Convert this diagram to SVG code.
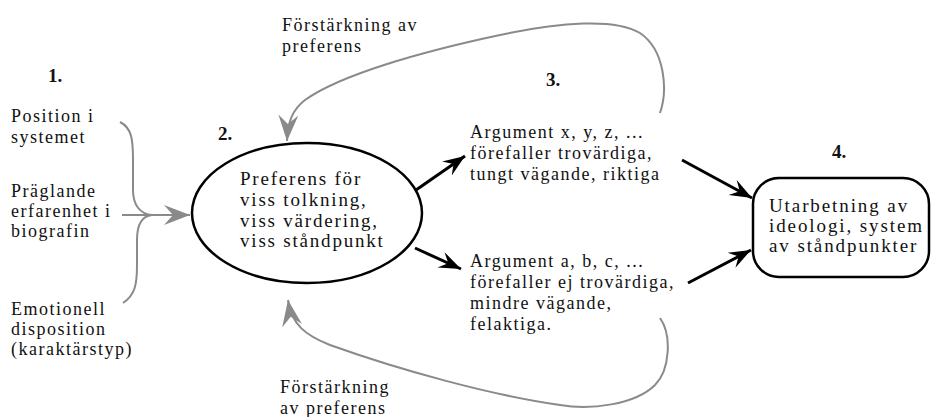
<svg xmlns="http://www.w3.org/2000/svg" width="931" height="417" viewBox="0 0 931 417">
<style>
.t{font-family:"Liberation Serif","Times New Roman",serif;font-size:18px;letter-spacing:1.5px;fill:#111}
.w{font-family:"Liberation Serif","Times New Roman",serif;font-size:19px;letter-spacing:1.8px;fill:#111}
.x{font-family:"Liberation Serif","Times New Roman",serif;font-size:19px;letter-spacing:1.9px;fill:#111}
.n{font-family:"Liberation Serif","Times New Roman",serif;font-size:19px;font-weight:bold;fill:#111}
.g{fill:none;stroke:#8a8a8a;stroke-width:2}
.b{fill:none;stroke:#000;stroke-width:3}
.shape{fill:#fff;stroke:#000;stroke-width:2.5}
</style>
<defs>
<marker id="ag" viewBox="-26 -11 28 22" refX="0" refY="0" markerWidth="28" markerHeight="22" orient="auto" markerUnits="userSpaceOnUse"><path d="M0,0 L-26,-10 L-17,0 L-26,10 Z" fill="#8a8a8a"/></marker>
<marker id="ab" viewBox="-22 -10 24 20" refX="0" refY="0" markerWidth="24" markerHeight="20" orient="auto" markerUnits="userSpaceOnUse"><path d="M0,0 L-22,-8.5 L-14,0 L-22,8.5 Z" fill="#000"/></marker>
</defs>
<g id="connectors">
<path class="g" d="M120 122 C132 128,133 140,133 160 L133 190 C133 205,140 214,152 215"/>
<path class="g" d="M123 303 C135 295,137 285,137 265 L137 240 C137 225,142 216,152 215"/>
<path class="g" d="M122 215 L190 215" marker-end="url(#ag)"/>
<path class="g" d="M660 113 C668 90,665 50,640 33 C615 18,560 22,500 35 C420 52,340 75,305 100 C292 110,288 122,287 141" marker-end="url(#ag)"/>
<path class="g" d="M660 318 C672 335,670 370,655 385 C635 405,590 410,560 405 C490 395,400 370,330 345 C305 335,292 325,288 300" marker-end="url(#ag)"/>
<path class="b" d="M416 190 L465 156" marker-end="url(#ab)"/>
<path class="b" d="M415 248 L461 269" marker-end="url(#ab)"/>
<path class="b" d="M682 160 L752 198" marker-end="url(#ab)"/>
<path class="b" d="M688 283 L751 250" marker-end="url(#ab)"/>
</g>
<g id="label-top">
<text class="t" x="282" y="31">Förstärkning av</text>
<text class="t" x="282" y="52">preferens</text>
</g>
<g id="label-bottom">
<text class="t" x="280" y="393">Förstärkning</text>
<text class="t" x="280" y="414">av preferens</text>
</g>
<g id="num1"><text class="n" x="48" y="82">1.</text></g>
<g id="num2"><text class="n" x="218" y="140">2.</text></g>
<g id="num3"><text class="n" x="546" y="86">3.</text></g>
<g id="num4"><text class="n" x="832" y="158">4.</text></g>
<g id="factor-position">
<text class="t" x="11" y="122">Position i</text>
<text class="t" x="11" y="143">systemet</text>
</g>
<g id="factor-experience">
<text class="t" x="11" y="197">Präglande</text>
<text class="t" x="11" y="217">erfarenhet i</text>
<text class="t" x="11" y="237">biografin</text>
</g>
<g id="factor-emotion">
<text class="t" x="11" y="315">Emotionell</text>
<text class="t" x="11" y="335">disposition</text>
<text class="t" x="11" y="355">(karaktärstyp)</text>
</g>
<g id="preference">
<ellipse class="shape" cx="307" cy="213" rx="115" ry="70"/>
<text class="w" x="240" y="185">Preferens för</text>
<text class="w" x="240" y="206">viss tolkning,</text>
<text class="w" x="240" y="227">viss värdering,</text>
<text class="w" x="240" y="247">viss ståndpunkt</text>
</g>
<g id="args-pro">
<text class="t" x="470" y="138">Argument x, y, z, ...</text>
<text class="t" x="470" y="159">förefaller trovärdiga,</text>
<text class="t" x="470" y="180">tungt vägande, riktiga</text>
</g>
<g id="args-con">
<text class="t" x="470" y="267">Argument a, b, c, ...</text>
<text class="t" x="470" y="288">förefaller ej trovärdiga,</text>
<text class="t" x="470" y="309">mindre vägande,</text>
<text class="t" x="470" y="330">felaktiga.</text>
</g>
<g id="ideology">
<rect class="shape" x="753" y="178" width="176" height="99" rx="26"/>
<text class="x" x="769" y="212">Utarbetning av</text>
<text class="x" x="769" y="232">ideologi, system</text>
<text class="x" x="769" y="252">av ståndpunkter</text>
</g>
</svg>
